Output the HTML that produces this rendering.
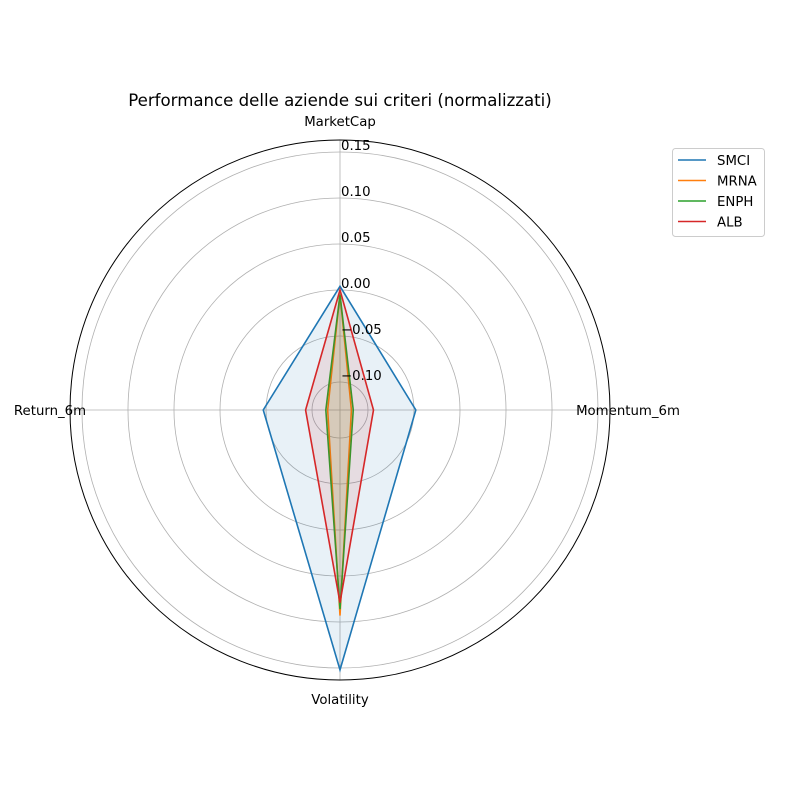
<!DOCTYPE html>
<html><head><meta charset="utf-8"><style>
body{margin:0;background:#fff}
svg{font-family:"DejaVu Sans","Liberation Sans",sans-serif}
</style></head><body>
<svg width="800" height="800" viewBox="0 0 800 800">
<rect width="800" height="800" fill="#fff"/>
<text x="340" y="106" text-anchor="middle" font-size="16.6">Performance delle aziende sui criteri (normalizzati)</text>
<g id="grid"></g>
<g id="series"></g>
<g id="labels"></g>
<g>
<rect x="672.5" y="148.5" width="92" height="88" rx="3" fill="#fff" stroke="#ccc"/>
<g id="legend"></g>
</g>
</svg>
<script>
const categories = ["MarketCap","Momentum_6m","Volatility","Return_6m"];
const seriesNames = ["SMCI","MRNA","ENPH","ALB"];
const smci = [0.004,-0.048,0.152,-0.047];
const mrna = [-0.005,-0.118,0.093,-0.117];
const enph = [-0.005,-0.116,0.086,-0.115];
const alb = [0.0,-0.094,0.079,-0.093];
const rTicks = [-0.10,-0.05,0.00,0.05,0.10,0.15];
const tickLabels = ["\u22120.10","\u22120.05","0.00","0.05","0.10","0.15"];
const colors = ["#1f77b4","#ff7f0e","#2ca02c","#d62728"];
const cx=340, cy=410, rMin=-0.1304, rMax=0.163, R=270;
const NS="http://www.w3.org/2000/svg";
function rad(v){return (v-rMin)/(rMax-rMin)*R;}
function ang(i){return Math.PI/2 - i*2*Math.PI/categories.length;}
function pt(i,v){const r=rad(v),a=ang(i);return [cx+r*Math.cos(a), cy-r*Math.sin(a)];}
function mk(tag,attrs,parent){const e=document.createElementNS(NS,tag);for(const k in attrs)e.setAttribute(k,attrs[k]);parent.appendChild(e);return e;}
const grid=document.getElementById('grid');
rTicks.forEach((t,i)=>{
  const c=mk('circle',{cx:cx,cy:cy,r:rad(t),fill:'none',stroke:'#b0b0b0','stroke-width':0.8},grid);
  
  
});
categories.forEach((c,i)=>{
  const p=pt(i,rMax);
  const l=mk('line',{x1:cx,y1:cy,x2:p[0],y2:p[1],stroke:'#b0b0b0','stroke-width':0.8},grid);
  
  
});
const outer=mk('circle',{cx:cx,cy:cy,r:R,fill:'none',stroke:'#000','stroke-width':1},grid);


const ser=document.getElementById('series');
[smci,mrna,enph,alb].forEach((vals,s)=>{
  const pts=vals.map((v,i)=>pt(i,v));
  const d=pts.map(p=>p.join(',')).join(' ');
  const f=mk('polygon',{points:d,fill:colors[s],'fill-opacity':0.1,stroke:'none'},ser);
  
  
  const l=mk('polygon',{points:d,fill:'none',stroke:colors[s],'stroke-width':1.6},ser);
  
  
});
const lab=document.getElementById('labels');
rTicks.forEach((t,i)=>{
  const r=rad(t);
  const tx=mk('text',{x:cx+1,y:cy-r-2,'font-size':13.3},lab);
  tx.textContent=tickLabels[i];
  
  
});
const catPos=[[340,126,'middle'],[628,415,'middle'],[340,704,'middle'],[50,415,'middle']];
categories.forEach((c,i)=>{
  const tx=mk('text',{x:catPos[i][0],y:catPos[i][1],'text-anchor':catPos[i][2],'font-size':13.3},lab);
  tx.textContent=c;
  
  
});
const leg=document.getElementById('legend');
seriesNames.forEach((n,i)=>{
  const y=160+i*20.5;
  const l=mk('line',{x1:678,y1:y,x2:706,y2:y,stroke:colors[i],'stroke-width':1.6},leg);
  
  
  const t=mk('text',{x:717,y:y+5,'font-size':13.3},leg);
  t.textContent=n;
  
  
});
</script>
</body></html>
